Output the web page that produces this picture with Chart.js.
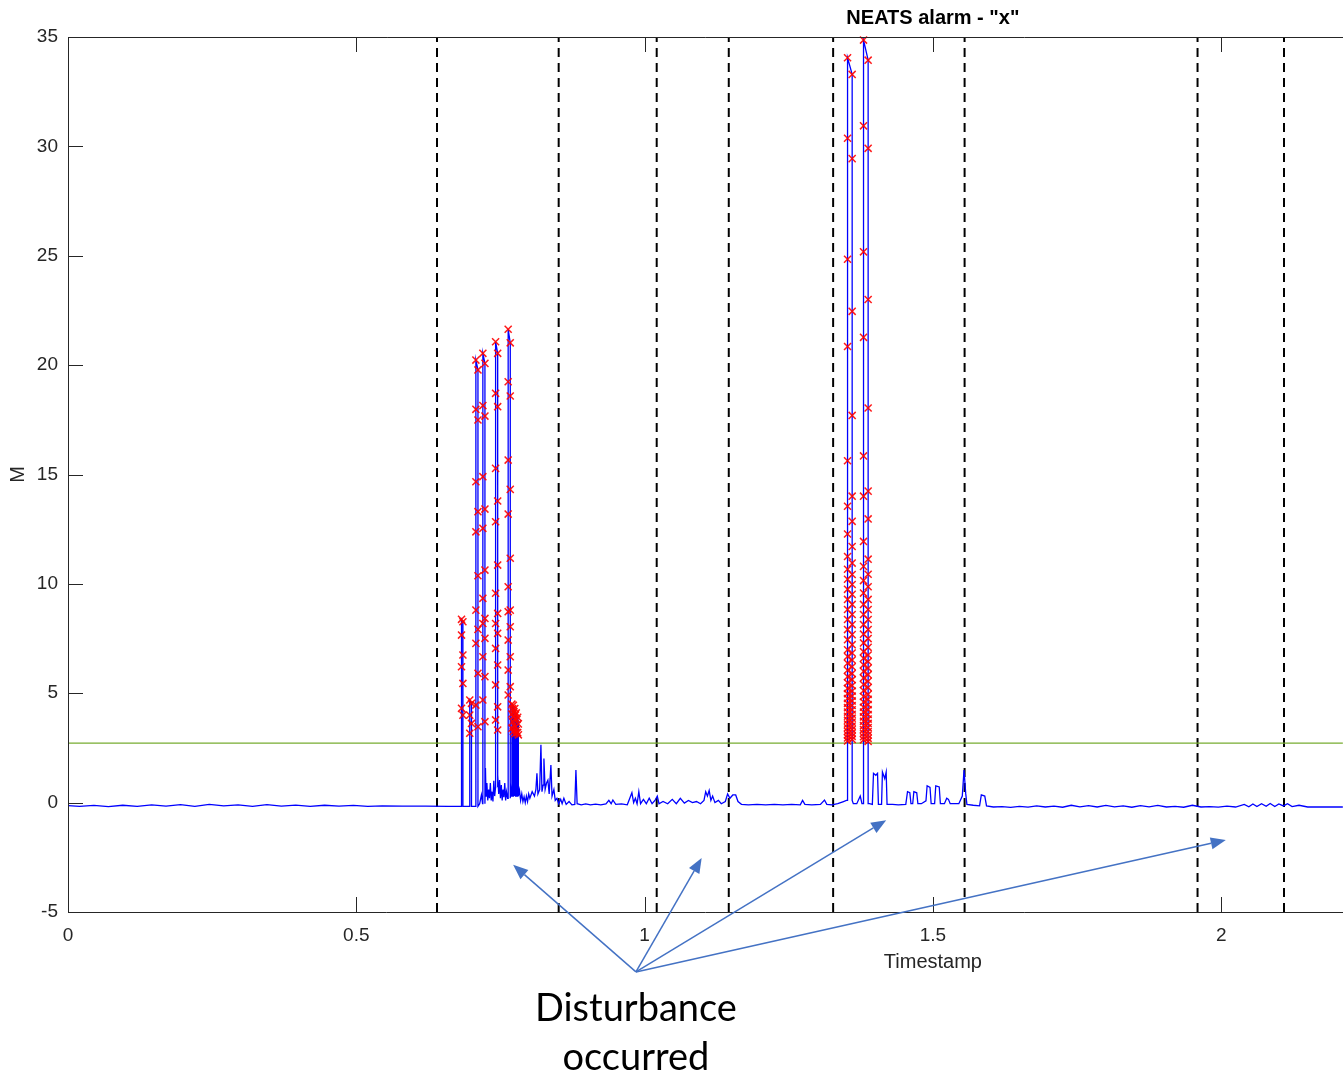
<!DOCTYPE html>
<html>
<head>
<meta charset="utf-8">
<title>NEATS alarm</title>
<script src="https://cdn.jsdelivr.net/npm/chart.js@4.4.0/dist/chart.umd.min.js"></script>
<style>
  html, body { margin: 0; padding: 0; background: #fff; }
  #wrap { width: 1343px; height: 1076px; position: relative; }
</style>
</head>
<body>
<div id="wrap"><canvas id="neatsChart"></canvas></div>
<script>
// alarm level and the times where a disturbance was logged
const threshold = 2.72;
const disturbanceT = [0.640, 0.851, 1.021, 1.146, 1.327, 1.555, 1.959, 2.109];

// low level part of the M signal, [timestamp, M]
const quietBefore = [
  [0.000, -0.14], [0.020, -0.17], [0.045, -0.13], [0.070, -0.18], [0.095, -0.12],
  [0.120, -0.17], [0.145, -0.10], [0.170, -0.16], [0.195, -0.09], [0.220, -0.17],
  [0.245, -0.08], [0.270, -0.15], [0.295, -0.10], [0.320, -0.17], [0.345, -0.09],
  [0.370, -0.16], [0.395, -0.11], [0.420, -0.17], [0.445, -0.12], [0.470, -0.16],
  [0.495, -0.13], [0.520, -0.17], [0.545, -0.15], [0.580, -0.16], [0.620, -0.16],
  [0.660, -0.17], [0.682, -0.17]
];
const floor1 = [
  [0.690, -0.17], [0.705, -0.17], [0.7140, -0.05], [0.7170, 0.35], [0.7190, -0.05],
  [0.7240, 1.58], [0.7250, 0.30], [0.7265, 0.90], [0.7280, 0.10], [0.7295, 0.60],
  [0.7310, 0.20], [0.7325, 0.89], [0.7340, 0.10], [0.7355, 0.50], [0.7370, 0.05],
  [0.7385, 1.00], [0.7400, 0.30], [0.7415, 0.70], [0.7455, 1.26], [0.7470, 0.40],
  [0.7485, 1.03], [0.7500, 0.20], [0.7515, 0.80], [0.7530, 0.10], [0.7545, 0.60],
  [0.7560, 0.25], [0.7575, 0.90], [0.7590, 0.10], [0.7605, 0.50], [0.7625, 0.20],
  [0.7675, 0.90], [0.7690, 0.30], [0.7830, 0.57], [0.7850, 0.10], [0.7870, 0.40],
  [0.7890, 0.05], [0.7910, 0.27], [0.7930, 0.00], [0.7950, 0.30], [0.7970, 0.05],
  [0.7990, 0.40], [0.8010, 0.20], [0.8050, 0.50], [0.8090, 0.30], [0.8115, 0.60],
  [0.8133, 1.34], [0.8150, 0.40], [0.8180, 0.60], [0.8202, 2.65], [0.8220, 0.50],
  [0.8240, 0.80], [0.8254, 2.02], [0.8275, 0.60], [0.8300, 0.90], [0.8323, 1.03],
  [0.8345, 0.40], [0.8375, 1.72], [0.8395, 0.30], [0.8427, 0.60], [0.8450, 0.10],
  [0.8480, 0.20], [0.8510, -0.05], [0.8545, 0.15], [0.8570, -0.05], [0.8600, 0.20],
  [0.8640, -0.08], [0.8690, 0.05], [0.8740, -0.10], [0.8790, -0.08], [0.8809, 1.49],
  [0.8830, -0.05]
];
const quietMiddle = [
  [0.8900, -0.10], [0.8980, -0.06], [0.9060, -0.10], [0.9150, -0.07], [0.9240, -0.10],
  [0.9330, -0.06], [0.9380, 0.10], [0.9420, -0.05], [0.9450, 0.12], [0.9500, -0.08],
  [0.9600, -0.06], [0.9700, -0.10], [0.9780, 0.45], [0.9810, 0.00], [0.9840, 0.20],
  [0.9870, -0.05], [0.9900, 0.50], [0.9930, -0.05], [0.9980, 0.15], [1.0030, -0.05],
  [1.0080, 0.20], [1.0130, -0.05], [1.0180, 0.10], [1.0220, 0.30], [1.0250, -0.05],
  [1.0320, 0.05], [1.0400, -0.05], [1.0480, 0.15], [1.0550, -0.05], [1.0620, 0.20],
  [1.0690, -0.02], [1.0760, 0.10], [1.0830, 0.00], [1.0900, 0.05], [1.0970, -0.05],
  [1.1030, 0.10], [1.1060, 0.50], [1.1090, 0.30], [1.1120, 0.55], [1.1150, 0.10],
  [1.1180, 0.30], [1.1220, 0.00], [1.1280, 0.10], [1.1330, -0.05], [1.1400, 0.05],
  [1.1440, 0.40], [1.1480, 0.20], [1.1530, 0.35], [1.1580, 0.35], [1.1620, 0.05],
  [1.1680, -0.08], [1.1800, -0.10], [1.1950, -0.08], [1.2100, -0.10], [1.2250, -0.08],
  [1.2400, -0.10], [1.2550, -0.08], [1.2700, -0.10], [1.2740, 0.10], [1.2780, -0.08],
  [1.2900, -0.10], [1.3050, -0.08], [1.3120, 0.12], [1.3160, -0.08], [1.3250, -0.10],
  [1.3350, -0.05], [1.3450, 0.05], [1.3500, 0.10]
];
const floor2 = [
  [1.3620, -0.05], [1.3680, -0.05], [1.3740, 0.30], [1.3770, -0.05], [1.3900, -0.05],
  [1.3950, -0.08], [1.3970, 1.34], [1.4010, 1.25], [1.4040, 1.34], [1.4055, -0.08],
  [1.4110, -0.08], [1.4125, 1.40], [1.4165, 1.10], [1.4190, 1.40], [1.4205, -0.08],
  [1.4300, -0.08], [1.4400, -0.10], [1.4530, -0.08], [1.4560, 0.50], [1.4600, 0.45],
  [1.4620, -0.05], [1.4650, -0.05], [1.4670, 0.50], [1.4720, 0.45], [1.4740, -0.05],
  [1.4800, -0.05], [1.4880, 0.08], [1.4900, 0.77], [1.4950, 0.70], [1.4970, -0.05],
  [1.5030, -0.05], [1.5050, 0.77], [1.5110, 0.72], [1.5130, -0.05], [1.5200, -0.05],
  [1.5240, 0.20], [1.5270, 0.15], [1.5300, -0.05], [1.5450, -0.05], [1.5510, 0.30],
  [1.5540, 1.49], [1.5570, 0.40], [1.5590, -0.08], [1.5700, -0.12], [1.5810, -0.15],
  [1.5840, 0.35], [1.5900, 0.30], [1.5930, -0.15]
];
const quietAfter = [
  [1.6050, -0.20], [1.6200, -0.18], [1.6350, -0.22], [1.6500, -0.17], [1.6650, -0.21],
  [1.6800, -0.15], [1.6950, -0.20], [1.7100, -0.16], [1.7250, -0.21], [1.7400, -0.12],
  [1.7550, -0.19], [1.7700, -0.14], [1.7850, -0.20], [1.8000, -0.13], [1.8150, -0.19],
  [1.8300, -0.15], [1.8450, -0.21], [1.8600, -0.14], [1.8750, -0.19], [1.8900, -0.13],
  [1.9050, -0.20], [1.9200, -0.17], [1.9350, -0.21], [1.9500, -0.12], [1.9650, -0.20],
  [1.9800, -0.18], [1.9950, -0.21], [2.0100, -0.16], [2.0250, -0.20], [2.0400, -0.08],
  [2.0480, -0.19], [2.0550, -0.06], [2.0620, -0.18], [2.0700, -0.05], [2.0780, -0.17],
  [2.0850, -0.04], [2.0930, -0.18], [2.1000, -0.06], [2.1080, -0.15], [2.1150, -0.05],
  [2.1230, -0.18], [2.1350, -0.12], [2.1500, -0.20], [2.1700, -0.20], [2.1900, -0.20],
  [2.2110, -0.20]
];

// the narrow pulses: centre time, half width, and the sample heights (highest first);
// alternate samples lie on the rising and on the falling edge
const spikeT = [0.6837, 0.6983, 0.7092, 0.7213, 0.7434, 0.7652, 0.7705, 0.7730, 0.7755, 0.7780, 0.7805, 1.3560, 1.3837];
const spikeHalfWidth = [0.0012, 0.0015, 0.0018, 0.0018, 0.0018, 0.0018, 0.0006, 0.0006, 0.0006, 0.0006, 0.0006, 0.0040, 0.0040];
const spikeSamples = [
  [8.38, 8.27, 7.66, 6.75, 6.21, 5.45, 4.31, 4.00],
  [4.69, 4.54, 4.00, 3.62, 3.17],
  [20.23, 19.78, 17.98, 17.49, 14.67, 13.30, 12.38, 10.37, 8.80, 7.92, 7.28, 5.91, 4.46, 3.47],
  [20.54, 20.08, 18.15, 17.67, 14.90, 13.42, 12.54, 10.63, 9.34, 8.42, 8.19, 7.51, 6.67, 5.76, 4.69, 3.70],
  [21.07, 20.54, 18.71, 18.10, 15.28, 13.79, 12.84, 10.86, 9.57, 8.65, 8.19, 7.74, 7.05, 6.29, 5.38, 4.38, 3.78, 3.32],
  [21.64, 21.02, 19.24, 18.59, 15.66, 14.32, 13.19, 11.17, 9.87, 8.80, 8.73, 8.04, 7.43, 6.67, 6.06, 5.30, 4.92],
  [4.50, 4.30, 4.05, 3.70, 3.40],
  [4.45, 4.15, 3.95, 3.55, 3.25],
  [4.30, 4.00, 3.85, 3.45, 3.15],
  [4.10, 3.80, 3.30, 3.20],
  [3.90, 3.60, 3.20, 3.10],
  [34.05, 33.29, 30.37, 29.44, 24.84, 22.46, 20.85, 17.70, 15.63, 14.01, 13.55, 12.86, 12.28, 11.71, 11.25,
   10.95, 10.67, 10.43, 10.21, 9.97, 9.75, 9.52, 9.29, 9.06, 8.83, 8.60, 8.37, 8.14, 7.91, 7.68, 7.45, 7.22,
   6.99, 6.84, 6.68, 6.52, 6.37, 6.21, 6.05, 5.90, 5.76, 5.62, 5.48, 5.35, 5.22, 5.10,
   4.98, 4.87, 4.76, 4.65, 4.54, 4.44, 4.34, 4.24, 4.14, 4.04, 3.95, 3.86, 3.77, 3.68, 3.59, 3.50,
   3.42, 3.34, 3.26, 3.18, 3.10, 3.03, 2.96, 2.89, 2.82],
  [34.86, 33.94, 30.94, 29.91, 25.18, 23.00, 21.27, 18.04, 15.85, 14.24, 14.01, 12.97, 11.94, 11.13,
   10.80, 10.44, 10.15, 9.87, 9.58, 9.29, 9.06, 8.83, 8.60, 8.37, 8.14, 7.91, 7.70, 7.50, 7.30, 7.10,
   6.90, 6.75, 6.60, 6.45, 6.30, 6.15, 6.00, 5.85, 5.70, 5.55, 5.40, 5.26, 5.12,
   4.95, 4.85, 4.72, 4.60, 4.48, 4.36, 4.25, 4.14, 4.03, 3.92, 3.82, 3.72, 3.62, 3.52, 3.43, 3.34,
   3.25, 3.17, 3.09, 3.01, 2.94, 2.87, 2.80]
];

// callout: arrows from the note to the disturbance areas, in [timestamp, M]
const noteFrom = [0.985, -7.74];
const noteTo = [[0.772, -2.84], [1.099, -2.53], [1.419, -0.80], [2.008, -1.71]];
const noteLines = ['Disturbance', 'occurred'];

// visible part of the axis; the signal itself runs on past the cropped edge
const xMax = 2.2;
const signalEnd = 2.211;

function buildSignal() {
  const floor = [...quietBefore, ...floor1, ...quietMiddle, ...floor2, ...quietAfter];
  const out = [];
  let k = 0;
  let last = floor[0][1];
  floor.forEach(([t, m]) => {
    while (k < spikeT.length && spikeT[k] < t) {
      const a = spikeT[k] - spikeHalfWidth[k];
      const b = spikeT[k] + spikeHalfWidth[k];
      const s = spikeSamples[k];
      const rise = s.filter((v, i) => i % 2 === 0).reverse();
      const fall = s.filter((v, i) => i % 2 === 1);
      out.push({ x: a, y: last });
      rise.forEach(v => out.push({ x: a, y: v }));
      fall.forEach(v => out.push({ x: b, y: v }));
      out.push({ x: b, y: last });
      k++;
    }
    out.push({ x: t, y: m });
    last = m;
  });
  return out;
}

const signal = buildSignal();
const alarms = signal.filter(p => p.y > threshold);

const TICK = 15;
const AXIS_COLOR = '#262626';

// MATLAB style box, inward ticks, title/xlabel and the hand drawn callout
const frameAndNotes = {
  id: 'frameAndNotes',
  afterDraw(chart) {
    const { ctx, chartArea: a, scales: { x, y } } = chart;
    ctx.save();
    ctx.strokeStyle = AXIS_COLOR;
    ctx.lineWidth = 1;
    ctx.beginPath();
    ctx.moveTo(a.left + 0.5, a.bottom + 0.5);
    ctx.lineTo(a.left + 0.5, a.top + 0.5);
    ctx.lineTo(chart.width, a.top + 0.5);
    ctx.moveTo(a.left, a.bottom + 0.5);
    ctx.lineTo(chart.width, a.bottom + 0.5);
    x.ticks.forEach(tk => {
      const px = Math.round(x.getPixelForValue(tk.value)) + 0.5;
      ctx.moveTo(px, a.bottom);
      ctx.lineTo(px, a.bottom - TICK);
      ctx.moveTo(px, a.top);
      ctx.lineTo(px, a.top + TICK);
    });
    y.ticks.forEach(tk => {
      const py = Math.round(y.getPixelForValue(tk.value)) + 0.5;
      ctx.moveTo(a.left, py);
      ctx.lineTo(a.left + TICK, py);
    });
    ctx.stroke();

    // the source figure ran from 0 to 3, so title and xlabel are centred on 1.5
    const mid = x.getPixelForValue(1.5);
    ctx.textAlign = 'center';
    ctx.textBaseline = 'middle';
    ctx.fillStyle = '#000';
    ctx.font = 'bold 20px "Liberation Sans"';
    ctx.fillText('NEATS alarm - "x"', mid, a.top - 19);
    ctx.fillStyle = AXIS_COLOR;
    ctx.font = '20px "Liberation Sans"';
    ctx.fillText('Timestamp', mid, a.bottom + 50);

    // callout arrows
    const ox = x.getPixelForValue(noteFrom[0]);
    const oy = y.getPixelForValue(noteFrom[1]);
    ctx.strokeStyle = '#4472c4';
    ctx.fillStyle = '#4472c4';
    ctx.lineWidth = 1.5;
    noteTo.forEach(([t, m]) => {
      const tx = x.getPixelForValue(t);
      const ty = y.getPixelForValue(m);
      const ang = Math.atan2(ty - oy, tx - ox);
      const head = 15;
      const bx = tx - head * Math.cos(ang);
      const by = ty - head * Math.sin(ang);
      ctx.beginPath();
      ctx.moveTo(ox, oy);
      ctx.lineTo(bx, by);
      ctx.stroke();
      ctx.beginPath();
      ctx.moveTo(tx, ty);
      ctx.lineTo(bx + 6 * Math.sin(ang), by - 6 * Math.cos(ang));
      ctx.lineTo(bx - 6 * Math.sin(ang), by + 6 * Math.cos(ang));
      ctx.closePath();
      ctx.fill();
    });

    ctx.fillStyle = '#000';
    ctx.font = '38px Lato';
    ctx.fillText(noteLines[0], ox, oy + 37);
    ctx.fillText(noteLines[1], ox, oy + 86);
    ctx.restore();
  }
};

Chart.defaults.font.family = '"Liberation Sans", Arial, sans-serif';

const dashedSets = disturbanceT.map(t => ({
  data: [{ x: t, y: -5 }, { x: t, y: 35 }],
  borderColor: '#000',
  borderWidth: 2,
  borderDash: [9, 6],
  pointRadius: 0
}));

new Chart(document.getElementById('neatsChart'), {
  type: 'line',
  data: {
    datasets: [
      {
        label: 'alarm',
        data: alarms,
        showLine: false,
        pointStyle: 'crossRot',
        pointRadius: 5,
        borderColor: 'rgba(255, 0, 0, 0.9)',
        borderWidth: 1.5,
        clip: false
      },
      {
        label: 'M',
        data: signal,
        borderColor: '#0000ff',
        borderWidth: 1.3,
        pointRadius: 0,
        tension: 0,
        clip: { left: 0, top: 0, bottom: 0, right: 8 }
      },
      {
        label: 'threshold',
        data: [{ x: 0, y: threshold }, { x: signalEnd, y: threshold }],
        borderColor: '#77ac30',
        borderWidth: 1.2,
        pointRadius: 0,
        clip: { left: 0, top: 0, bottom: 0, right: 8 }
      },
      ...dashedSets
    ]
  },
  options: {
    responsive: true,
    maintainAspectRatio: false,
    animation: false,
    events: [],
    layout: { padding: { top: 37, bottom: 124, left: 0, right: 0 } },
    plugins: {
      legend: { display: false },
      tooltip: { enabled: false },
      title: { display: false }
    },
    scales: {
      x: {
        type: 'linear',
        min: 0,
        max: xMax,
        grid: { display: false, drawTicks: false },
        border: { display: false },
        ticks: {
          stepSize: 0.5,
          includeBounds: false,
          maxRotation: 0,
          autoSkip: false,
          padding: 12,
          color: AXIS_COLOR,
          font: { size: 19 },
          callback: v => String(v)
        },
        afterFit: s => { s.height = 40; }
      },
      y: {
        min: -5,
        max: 35,
        grid: { display: false, drawTicks: false },
        border: { display: false },
        ticks: {
          stepSize: 5,
          padding: 10,
          color: AXIS_COLOR,
          font: { size: 19 }
        },
        title: {
          display: true,
          text: 'M',
          color: AXIS_COLOR,
          font: { size: 20 },
          padding: { top: 6, bottom: 0 }
        },
        afterFit: s => { s.width = 68; }
      }
    }
  },
  plugins: [frameAndNotes]
});
</script>
</body>
</html>
